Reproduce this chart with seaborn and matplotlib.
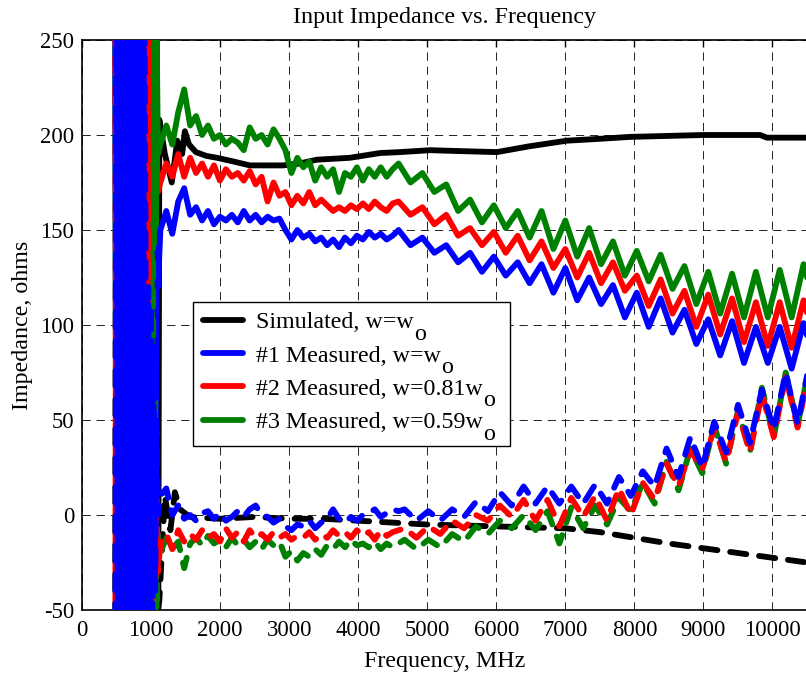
import numpy as np
import matplotlib
matplotlib.use("Agg")
import matplotlib.pyplot as plt
from matplotlib.lines import Line2D
from matplotlib.patches import Rectangle
from matplotlib.transforms import IdentityTransform
import seaborn as sns

# ---------------- data ----------------
# resonance region below ~1.1 GHz (values swing far beyond the axes)
LOW_FREQ = list(range(480, 1101, 20))  # 32 points

BLUE_DASH_LOW = [-120, 320, -120, 320, -120, 320, -120, 320, -120, 320,
                 -120, 320, -120, 320, -120, 320, -120, 320, -120, 320,
                 -120, 320, 150, -100, 120, -80, 110, -60, 90, -40, 50, 0]
BLUE_SOLID_LOW = [320, -120, 320, -120, 320, -120, 320, -120, 320, -120,
                  320, -120, 320, -120, 320, -120, 320, -120, 320, -120,
                  320, -120, 140, -100, 130, -80, 120, -70, 110, -60, 140, 120]
RED_SOLID_LOW = [-120, 320, -120, 320, -120, 320, -120, 320, -120, 320,
                 -120, 320, -120, 320, -120, 320, -120, 320, -120, 320,
                 -120, 320, -120, 320, -120, 320, -120, 320, 200, 130, 200, 170]
RED_DASH_LOW = [320, -120, 320, -120, 320, -120, 320, -120, 320, -120,
                320, -120, 320, -120, 320, -120, 320, -120, 320, -120,
                320, -120, 320, -120, 320, -120, 80, -60, 40, -40, 10, -30]
GREEN_SOLID_LOW = [320, -120, 320, -120, 320, -120, 320, -120, 320, -120,
                   320, -120, 320, -120, 320, -120, 320, -120, 320, -120,
                   320, -120, 320, -120, 320, -120, 320, -120, 320, -120, 260, 190]
GREEN_DASH_LOW = [-120, 320, -120, 320, -120, 320, -120, 320, -120, 320,
                  -120, 320, -120, 320, -120, 320, -120, 320, -120, 320,
                  -120, 320, -120, 320, -120, 320, -120, 320, -120, 60, -50, -10]

# measured data above the resonance: 110 samples from 1135 MHz, 86.25 MHz apart
MAIN_FREQ = 1135 + 86.25 * np.arange(110)

BLUE_SOLID = [150, 160, 148, 165, 172, 158, 162, 155, 160, 153,
              157, 155, 158, 154, 160, 155, 158, 154, 157, 155,
              156, 150, 145, 150, 146, 148, 144, 146, 142, 145,
              141, 146, 143, 147, 145, 149, 146, 148, 145, 147,
              150, 146, 142, 144, 146, 142, 138, 140, 142, 137.5,
              133, 135.5, 138, 133, 128, 132, 136, 131, 126, 129.5,
              133, 127.5, 122, 127, 132, 124.5, 117, 123.5, 130, 121.5,
              113, 119, 125, 118, 111, 116, 121, 112.5, 104, 110.5,
              117, 108, 99, 106.5, 114, 105, 96, 102, 108, 99,
              90, 96.5, 103, 93.5, 84, 93, 102, 91, 80, 89.5,
              99, 89.5, 80, 89.5, 99, 88, 77, 89, 101, 90]
RED_SOLID = [175, 185, 178, 190, 178, 188, 180, 185, 178, 184,
             176, 182, 178, 180, 176, 181, 174, 178, 165, 175,
             168, 170, 163, 168, 164, 170, 163, 166, 163, 160,
             162, 160, 163, 161, 164, 161, 165, 162, 160, 164,
             165, 161.5, 158, 160, 162, 157.5, 153, 155.5, 158, 152.5,
             147, 149, 151, 146.5, 142, 145.5, 149, 143.5, 138, 142.5,
             147, 140.5, 134, 139, 144, 137, 130, 135, 140, 132.5,
             125, 131.5, 138, 130, 122, 127.5, 133, 125.5, 118, 122,
             126, 118, 110, 117, 124, 115, 106, 112, 118, 108.5,
             99, 107.5, 116, 105.5, 95, 104.5, 114, 102.5, 91, 101.5,
             112, 100.5, 89, 100.5, 112, 100, 88, 100.5, 113, 102]
GREEN_SOLID = [195, 205, 195, 212, 224, 205, 210, 200, 205, 198,
               200, 195, 198, 196, 192, 204, 198, 200, 195, 203,
               198, 192, 180, 188, 183, 186, 176, 183, 178, 182,
               170, 180, 178, 183, 176, 182, 178, 183, 178, 182,
               185, 180, 175, 177.5, 180, 175, 170, 172, 174, 167,
               160, 163, 166, 160, 154, 158.5, 163, 157, 151, 155.5,
               160, 153, 146, 153, 160, 150, 140, 147.5, 155, 145.5,
               136, 143.5, 151, 141.5, 132, 138, 144, 135, 126, 132.5,
               139, 131, 123, 130, 137, 128, 119, 125, 131, 121,
               111, 119.5, 128, 117, 106, 116.5, 127, 115.5, 104, 116,
               128, 116, 104, 116.5, 129, 116.5, 104, 118, 132, 120]
BLUE_DASH = [10, 14, 0, 5, -2, 0, -3, 1, 2, -2,
             1, -3, -1, 2, -1, 3, 5, 0, -1, -4,
             -2, -6, -8, -5, -6, -3, -7, -4, -2, 3,
             -2, -4, -1, -3, 0, 1, 3, -1, 1, 3,
             2, 3, 0, -3, -0.5, 2, -0.5, -3, 0, 3,
             1, -1, 3, 7, 4.5, 2, 7, 12, 8.5, 5,
             10, 15, 10.5, 6, 10.5, 15, 10.5, 6, 10.5, 15,
             10.5, 6, 11, 16, 11, 6, 13, 20, 15, 10,
             16.5, 23, 19, 15, 25, 35, 27.5, 20, 30.5, 41,
             33, 25, 37, 49, 41, 33, 45.5, 58, 48, 38,
             52, 66, 55.5, 45, 60, 75, 61.5, 48, 64, 80]
RED_DASH = [-15, -10, -18, -8, -14, -10, -13, -8, -12, -10,
            -14, -7, -12, -9, -14, -8, -12, -10, -13, -9,
            -12, -10, -13, -11, -12, -9, -13, -10, -12, -8,
            -11, -9, -12, -8, -11, -9, -13, -8, -11, -9,
            -8, -7, -9.5, -12, -9, -6, -8, -10, -6.5, -3,
            -5, -7, -3.5, 0, -1.5, -3, 1, 5, 2, -1,
            3.5, 8, 2.5, -3, 2.5, 8, 1, -6, 1.5, 9,
            4, -1, 4.5, 10, 3.5, -3, 5.5, 14, 7, 0,
            8.5, 17, 12.5, 8, 17.5, 27, 21, 15, 24.5, 34,
            29, 24, 35, 46, 37, 28, 41, 54, 43.5, 33,
            48.5, 64, 52.5, 41, 57, 73, 59.5, 46, 61.5, 77]
GREEN_DASH = [-20, -12, -18, -14, -28, -15, -12, -16, -11, -15,
              -13, -17, -12, -16, -13, -17, -14, -18, -13, -16,
              -14, -22, -19, -24, -20, -22, -18, -21, -16, -18,
              -14, -17, -13, -16, -15, -17, -14, -18, -15, -17,
              -15, -13, -15.5, -18, -15.5, -13, -15, -17, -13.5, -10,
              -12, -14, -10, -6, -8, -10, -6.5, -3, -5, -7,
              -3.5, 0, -4, -8, -3, 2, -6.5, -15, -5.5, 4,
              -1.5, -7, -1, 5, 0, -5, 2, 9, 5.5, 2,
              9.5, 17, 11.5, 6, 17, 28, 20.5, 13, 24, 35,
              28.5, 22, 34.5, 47, 37, 27, 41, 55, 44, 33,
              50, 67, 54, 41, 58, 75, 61, 47, 63, 79]

# simulated data
SIM_SOLID_FREQ = LOW_FREQ + [1120, 1200, 1300, 1380, 1450, 1490, 1550, 1650, 1800,
                             1955, 2200, 2430, 2700, 2910, 3150, 3400, 3880, 4316,
                             4605, 5040, 5500, 6010, 6470, 7020, 7500, 7936, 8470,
                             9000, 9500, 9820, 9920, 10500]
SIM_SOLID = ([400, -150] * 16) + [208, 190, 175, 197, 190, 202, 195, 191, 189,
                                  188, 186, 184, 184, 184, 185, 187, 188, 190.5,
                                  191, 192, 191.5, 191, 194, 197, 198, 199, 199.5,
                                  200, 200, 200, 198.6, 198.6]
SIM_DASH_FREQ = LOW_FREQ + [1120, 1200, 1280, 1345, 1420, 1560, 2000, 2500, 3000,
                            3500, 4000, 4500, 5000, 5500, 6000, 6500, 7000, 7500,
                            8000, 8500, 9000, 9500, 10000, 10500]
SIM_DASH = ([-150, 400] * 15) + [60, -50] + [-45, 10, -8, 12, 3, -1, -2, -1, -2,
                                             -2, -3, -4, -5, -5.5, -6, -6.5, -7, -9,
                                             -12, -15, -17.5, -20, -22.5, -25]

LABELS = ["Simulated, w=w",
          "#1 Measured, w=w",
          "#2 Measured, w=0.81w",
          "#3 Measured, w=0.59w"]
LABEL_SUB = "o"
X_TICKS = list(range(0, 10001, 1000))
Y_TICKS = list(range(-50, 251, 50))

# ---------------- style ----------------
sns.set_theme(style="white")
plt.rcParams["font.family"] = ["Liberation Serif", "DejaVu Serif"]
plt.rcParams["axes.unicode_minus"] = False
plt.rcParams["text.color"] = "black"
plt.rcParams["axes.labelcolor"] = "black"
plt.rcParams["xtick.color"] = "black"
plt.rcParams["ytick.color"] = "black"

BLACK, BLUE, RED, GREEN = "#000000", "#0000FF", "#FF0000", "#008000"
LW = 4.2
DASH = (0, (2.8, 2.2))
FS_TICK = 16.3
FS_TEXT = 17.3

fig = plt.figure(figsize=(8.06, 6.77), dpi=100)
ax = fig.add_axes([82 / 806, 67 / 677, 725 / 806, 570 / 677])


def draw(x, y, color, dashed, z):
    kw = dict(color=color, linewidth=LW, solid_capstyle="round",
              solid_joinstyle="round", dash_capstyle="round",
              dash_joinstyle="round", zorder=z)
    if dashed:
        kw["linestyle"] = DASH
    sns.lineplot(x=np.asarray(x, float), y=np.asarray(y, float), ax=ax,
                 estimator=None, sort=False, legend=False, **kw)


mf = list(LOW_FREQ) + list(MAIN_FREQ)
draw(SIM_SOLID_FREQ, SIM_SOLID, BLACK, False, 2)
draw(SIM_DASH_FREQ, SIM_DASH, BLACK, True, 2.1)
draw(mf, RED_SOLID_LOW + RED_SOLID, RED, False, 3.0)
draw(mf, GREEN_SOLID_LOW + GREEN_SOLID, GREEN, False, 3.1)
draw(mf, BLUE_SOLID_LOW + BLUE_SOLID, BLUE, False, 3.2)
draw(mf, GREEN_DASH_LOW + GREEN_DASH, GREEN, True, 3.3)
draw(mf, RED_DASH_LOW + RED_DASH, RED, True, 3.4)
draw(mf, BLUE_DASH_LOW + BLUE_DASH, BLUE, True, 3.5)

ax.set_xlim(0, 10500)
ax.set_ylim(-50, 250)
ax.set_xticks(X_TICKS)
ax.set_yticks(Y_TICKS)
ax.tick_params(axis="both", labelsize=FS_TICK, direction="in", length=5,
               width=1, top=True, right=False)
ax.tick_params(axis="x", pad=7)
ax.tick_params(axis="y", pad=5.5)
ax.grid(True, color="#222222", linestyle=(0, (8.5, 6)), linewidth=0.7)
ax.set_axisbelow(True)
for side in ["left", "top", "bottom"]:
    ax.spines[side].set_color("black")
    ax.spines[side].set_linewidth(1.2)
ax.spines["right"].set_visible(False)

ax.set_title("Input Impedance vs. Frequency", fontsize=FS_TEXT, pad=12)
ax.set_xlabel("Frequency, MHz", fontsize=FS_TEXT, labelpad=7.5)
ax.set_ylabel("Impedance, ohms", fontsize=FS_TEXT, labelpad=5.5)

# legend box (drawn as its own frame so its size matches the reference)
LEG_X0, LEG_X1, LEG_Y0, LEG_Y1 = 0.1531, 0.5903, 0.2877, 0.5404
ax.add_patch(Rectangle((LEG_X0, LEG_Y0), LEG_X1 - LEG_X0, LEG_Y1 - LEG_Y0,
                       transform=ax.transAxes, facecolor="white",
                       edgecolor="black", linewidth=1.0, zorder=9))
handles = [Line2D([0], [0], color=c, linewidth=LW, solid_capstyle="round")
           for c in (BLACK, BLUE, RED, GREEN)]
leg = ax.legend(handles, LABELS, loc="upper left",
                bbox_to_anchor=(LEG_X0, LEG_Y1), frameon=False,
                fontsize=FS_TEXT, handlelength=1.7, handletextpad=0.52,
                labelspacing=0.475, borderpad=0.4, borderaxespad=0)
leg.set_zorder(10)

# MATLAB-style full-size lowered subscript "o" after each legend label
fig.canvas.draw()
renderer = fig.canvas.get_renderer()
for t in leg.get_texts():
    fp = t.get_fontproperties()
    bb = t.get_window_extent(renderer)
    _, _, d = renderer.get_text_width_height_descent("lp", fp, ismath=False)
    baseline = bb.y0 + d
    fig.text(bb.x1 + 0.5, baseline - 11.5, LABEL_SUB, fontproperties=fp,
             transform=IdentityTransform(), ha="left", va="baseline", zorder=12)

fig.savefig("out.png", dpi=100)
